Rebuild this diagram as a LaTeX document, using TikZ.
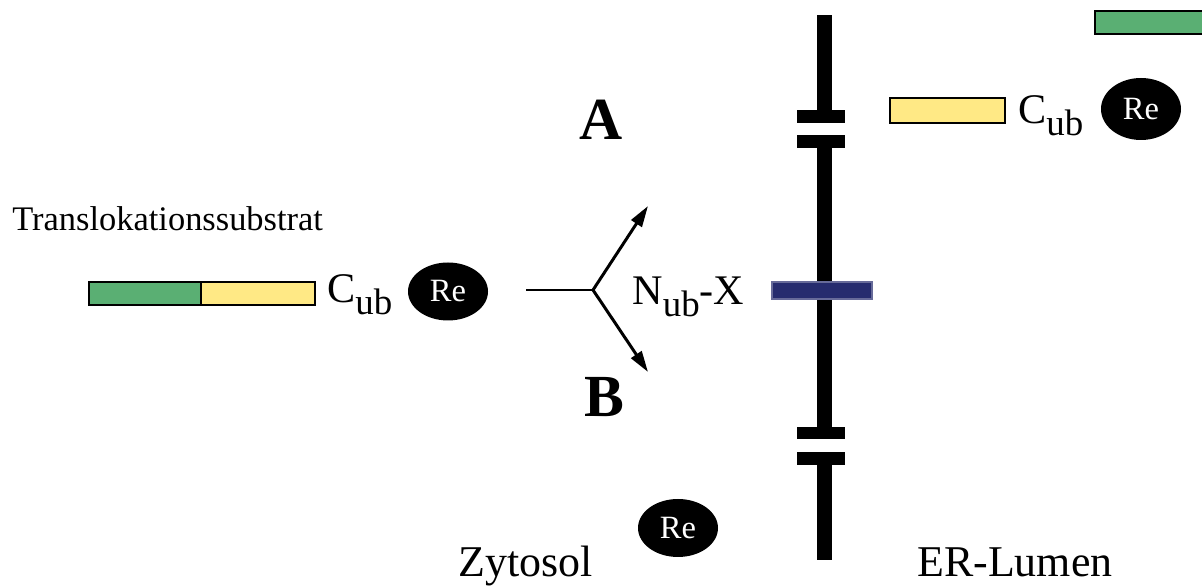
\documentclass[tikz,border=0pt]{standalone}
\usepackage{fontspec}
\setmainfont{Liberation Serif}
\usetikzlibrary{arrows.meta,shapes.geometric}

\definecolor{ubgreen}{RGB}{90,175,115}
\definecolor{ubyellow}{RGB}{255,233,133}
\definecolor{ubnavy}{RGB}{38,44,110}

\newcommand{\subub}{\raisebox{-6.5pt}{\fontsize{21}{21}\selectfont ub}}

\begin{document}
\begin{tikzpicture}[
    re/.style={ellipse, fill=black, text=white, inner sep=0pt,
        minimum width=1.6cm, minimum height=1.16cm,
        font=\fontsize{18.5}{18.5}\selectfont},
    bar/.style={draw=black, line width=1.1pt},
    lab/.style={inner sep=0pt, anchor=base west, font=\fontsize{24}{24}\selectfont},
    big/.style={inner sep=0pt, anchor=base west, font=\fontsize{25}{25}\selectfont},
    letter/.style={inner sep=0pt, font=\fontsize{34}{34}\selectfont\bfseries},
    arr/.style={line width=1.7pt, -{Triangle[length=12pt,width=7pt]}}
]
            \clip (0,0) rectangle (24.04,11.72);

            % membrane with the two channels
            \fill (16.34,11.42) rectangle (16.64,9.52);
            \fill (15.94,9.52) rectangle (16.89,9.26);
            \fill (15.94,9.02) rectangle (16.89,8.76);
            \fill (16.34,8.76) rectangle (16.64,3.18);
            \fill (15.94,3.18) rectangle (16.89,2.94);
            \fill (15.94,2.68) rectangle (16.89,2.42);
            \fill (16.34,2.42) rectangle (16.64,0.52);

            \draw[line width=0.6pt, draw=ubnavy!70, fill=ubnavy] (15.44,5.74) rectangle (17.44,6.08);

            % substrate, cytosol side
            \draw[bar, fill=ubgreen] (1.78,5.62) rectangle (4.02,6.08);
            \draw[bar, fill=ubyellow] (4.02,5.62) rectangle (6.30,6.08);
            \node[lab] (cubL) at (6.54,5.66) {C\subub};
            \node[re] (reL) at (8.96,5.89) {Re};

            % lumen side
            \draw[bar, fill=ubyellow] (17.80,9.26) rectangle (20.10,9.76);
            \node[lab] (cubR) at (20.36,9.24) {C\subub};
            \node[re, minimum height=1.24cm] (reR) at (22.82,9.54) {Re};
            \draw[bar, fill=ubgreen] (21.90,11.04) rectangle (24.40,11.50);

            \node[re] (reZ) at (13.56,1.16) {Re};

            % branching
            \coordinate (start) at (10.52,5.92);
            \coordinate (fork) at (11.86,5.92);
            \coordinate (tipA) at (12.96,7.60);
            \coordinate (tipB) at (12.96,4.28);

            \draw[line width=1.2pt] (start)--(fork);
            \draw[arr] (fork)--(tipA);
            \draw[arr] (fork)--(tipB);

            \node[lab] (nubx) at (12.64,5.62) {N\subub-X};

            \node[letter] (A) at (12.02,9.32) {A};
            \node[letter] (B) at (12.08,3.78) {B};

            \node[inner sep=0pt, anchor=base west, font=\fontsize{19.6}{20}\selectfont] (subst) at (0.24,7.10) {Translokationssubstrat};
            \node[big] (zyto) at (9.16,0.18) {Zytosol};
            \node[big] (lumen) at (18.34,0.18) {ER-Lumen};
        \end{tikzpicture}
\end{document}
